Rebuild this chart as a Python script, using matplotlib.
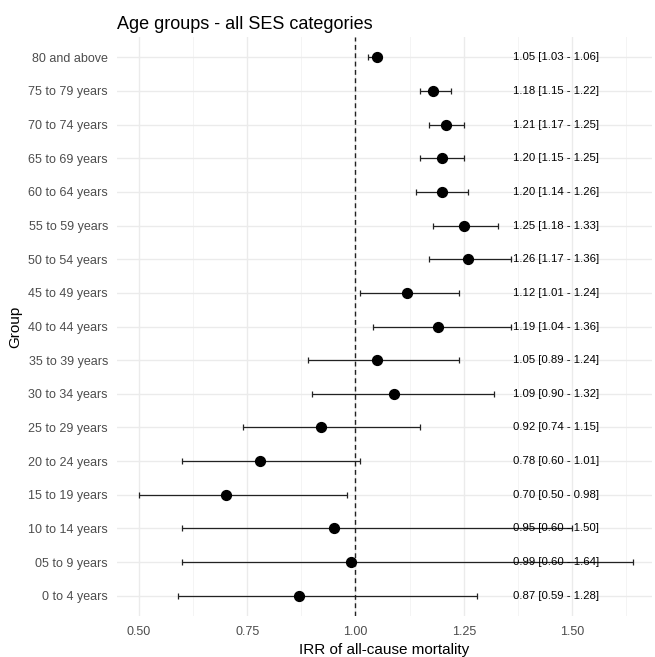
import numpy as np
import matplotlib.pyplot as plt
from matplotlib.ticker import MultipleLocator

plt.rcParams['font.family'] = ['Liberation Sans', 'DejaVu Sans']

# -----------------------------
# Data (bottom to top)
# -----------------------------

groups = ["0 to 4 years", "05 to 9 years", "10 to 14 years", "15 to 19 years",
          "20 to 24 years", "25 to 29 years", "30 to 34 years", "35 to 39 years",
          "40 to 44 years", "45 to 49 years", "50 to 54 years", "55 to 59 years",
          "60 to 64 years", "65 to 69 years", "70 to 74 years", "75 to 79 years",
          "80 and above"]
irr = [0.87, 0.99, 0.95, 0.70, 0.78, 0.92, 1.09, 1.05, 1.19, 1.12,
       1.26, 1.25, 1.20, 1.20, 1.21, 1.18, 1.05]
lower = [0.59, 0.60, 0.60, 0.50, 0.60, 0.74, 0.90, 0.89, 1.04, 1.01,
         1.17, 1.18, 1.14, 1.15, 1.17, 1.15, 1.03]
upper = [1.28, 1.64, 1.50, 0.98, 1.01, 1.15, 1.32, 1.24, 1.36, 1.24,
         1.36, 1.33, 1.26, 1.25, 1.25, 1.22, 1.06]

# -----------------------------
# Plot
# -----------------------------

fig = plt.figure(figsize=(6.55, 6.57), dpi=100)
ax = fig.add_axes([117 / 655, 41 / 657, 535 / 655, 579 / 657])

y = np.arange(len(groups))
irr = np.array(irr)
lower = np.array(lower)
upper = np.array(upper)

ax.axvline(1.0, color="#222222", linestyle=(0, (3.5, 2.5)), linewidth=1.0, zorder=2)

ax.errorbar(irr, y, xerr=[irr - lower, upper - irr], fmt="none",
            ecolor="#222222", elinewidth=0.9, capsize=2.5, capthick=0.9, zorder=3)
ax.scatter(irr, y, s=50, color="black", zorder=4)

for yi, v, lo, hi in zip(y, irr, lower, upper):
    ax.text(1.463, yi, f"{v:.2f} [{lo:.2f} - {hi:.2f}]", ha="center", va="center",
            fontsize=8.2, color="black", zorder=5)

ax.set_xlim(0.449, 1.685)
ax.set_ylim(-0.6, len(groups) - 0.4)

ax.set_yticks(y)
ax.set_yticklabels(groups)
ax.xaxis.set_major_locator(MultipleLocator(0.25))
ax.xaxis.set_minor_locator(MultipleLocator(0.125))
ax.xaxis.set_major_formatter(plt.FuncFormatter(lambda v, p: f"{v:.2f}"))

ax.grid(True, which="major", color="#EBEBEB", linewidth=1.0)
ax.grid(True, which="minor", axis="x", color="#F2F2F2", linewidth=0.6)
ax.set_axisbelow(True)
for s in ax.spines.values():
    s.set_visible(False)
ax.tick_params(which="both", length=0, labelsize=9, labelcolor="#4D4D4D")
ax.tick_params(axis="y", pad=6.5)
ax.tick_params(axis="x", pad=7)

ax.set_xlabel("IRR of all-cause mortality", fontsize=11, labelpad=4)
ax.set_ylabel("Group", fontsize=11, labelpad=4)
ax.set_title("Age groups - all SES categories", fontsize=13, loc="left", pad=6)

plt.savefig("out.png", dpi=100)
